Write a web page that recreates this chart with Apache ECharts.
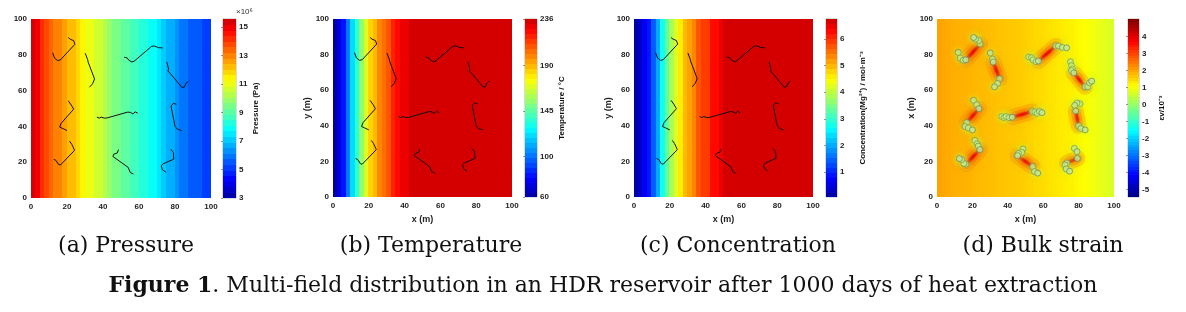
<!DOCTYPE html>
<html><head><meta charset="utf-8">
<script src="https://cdn.jsdelivr.net/npm/echarts@6/dist/echarts.min.js"></script>
<style>html,body{margin:0;padding:0;background:#fff}#c{width:1186px;height:312px}</style>
</head><body><div id="c"></div>
<script>
// ---------------- data ----------------
const axisTicks = [0, 20, 40, 60, 80, 100];
const colStep = 2.5; // width (m) of each column of the field profiles below
// field values per 2.5 m column, x = 0 .. 100 m
const pressureCols = [15.27,14.8,14.25,13.83,13.42,13.02,12.84,12.6,12.4,12.2,
  11.78,11.3,11.1,10.9,10.67,10.48,10.07,9.9,9.66,9.42,
  9.21,9.0,8.79,8.58,8.37,8.16,7.95,7.74,7.4,7.19,
  6.91,6.63,6.35,6.14,5.93,5.72,5.51,5.37,5.16,5.02];
const temperatureCols = [63,70,80,100,120,135,155,172,183,190,
  197,204,211,217,224,227,231,234,235,235.5,
  235.8,236,236,236,236,236,236,236,236,236,
  236,236,236,236,236,236,236,236,236,236];
const concentrationCols = [0.14,0.37,0.74,0.96,1.55,2.07,2.67,3.33,3.85,4.3,
  4.6,4.9,5.19,5.41,5.71,5.86,6.0,6.23,6.34,6.45,
  6.67,6.7,6.72,6.72,6.73,6.73,6.73,6.73,6.73,6.73,
  6.73,6.73,6.73,6.73,6.73,6.73,6.73,6.73,6.73,6.73];
const strainCols = [2.05,2.02,1.98,1.95,1.92,1.9,1.88,1.86,1.84,1.82,
  1.8,1.78,1.76,1.74,1.72,1.7,1.68,1.66,1.64,1.62,
  1.58,1.55,1.5,1.47,1.43,1.4,1.36,1.33,1.3,1.27,
  1.24,1.2,1.15,1.1,1.04,0.98,0.92,0.85,0.78,0.72];
// colour-bar ranges and tick labels
const pressureRange = [3, 15.56];      const pressureTicks = [3,5,7,9,11,13,15];
const temperatureRange = [60, 236];    const temperatureTicks = [60,100,145,190,236];
const concentrationRange = [0.07, 6.75]; const concentrationTicks = [1,2,3,4,5,6];
const strainRange = [-5.45, 5.04];     const strainTicks = [-5,-4,-3,-2,-1,0,1,2,3,4];
// fracture traces (x, y in m) and index of the first vertex of the main segment
const fractures = [
  [[12.0,81.2],[13.1,78.1],[14.8,76.8],[16.3,77.1],[24.4,85.9],[23.7,87.9],[21.8,88.7],[20.7,89.6]],
  [[30.1,80.9],[31.4,77.5],[31.8,75.8],[35.3,66.5],[34.2,63.8],[32.5,61.9]],
  [[51.8,78.6],[53.4,78.3],[54.3,77.0],[56.0,76.0],[57.3,76.4],[67.1,84.8],[68.6,84.9],[70.8,84.0],[73.2,83.8]],
  [[75.4,76.0],[76.0,73.8],[76.5,71.9],[76.0,71.0],[77.3,69.7],[83.7,61.9],[85.2,61.9],[86.1,64.1],[87.4,65.1]],
  [[20.7,54.3],[22.4,51.9],[23.7,49.6],[16.8,41.8],[15.9,39.6],[17.7,38.8],[20.0,37.7]],
  [[36.6,45.2],[37.9,44.6],[39.0,45.2],[40.7,44.6],[42.5,44.8],[53.8,48.0],[55.3,47.8],[56.6,47.0],[57.9,48.1],[59.3,47.4]],
  [[80.8,52.4],[79.1,52.8],[77.8,51.5],[78.4,48.3],[80.0,40.0],[81.3,38.5],[83.7,37.7]],
  [[21.4,31.8],[22.7,29.9],[23.3,28.6],[24.2,26.6],[16.3,18.4],[15.2,18.8],[13.9,21.0],[12.6,21.6]],
  [[48.6,27.0],[47.9,25.1],[46.0,24.5],[45.5,23.2],[54.0,17.1],[55.1,14.3],[56.9,13.4]],
  [[77.6,27.3],[79.1,25.5],[79.3,21.7],[73.4,19.1],[72.3,18.0],[73.0,15.8],[74.9,14.5]]
];
const fractureMain = [3,2,4,4,2,4,3,3,3,2];
const captions = ['(a) Pressure','(b) Temperature','(c) Concentration','(d) Bulk strain'];

// ---------------- styling helpers ----------------
function clamp(v){return Math.max(0,Math.min(1,v));}
function jet(t){
  t=clamp(t);
  const r=clamp(1.5-Math.abs(4*t-3)), g=clamp(1.5-Math.abs(4*t-2)), b=clamp(1.5-Math.abs(4*t-1));
  const h=v=>Math.round(v*255).toString(16).padStart(2,'0');
  return '#'+h(r)+h(g)+h(b);
}
const jetStops=['#00007f','#0000ff','#007fff','#00ffff','#7fff7f','#ffff00','#ff7f00','#ff0000','#7f0000'];
function bands(range,n){
  const step=(range[1]-range[0])/n, pieces=[], bar=[];
  for(let i=0;i<n;i++){
    const lo=range[0]+i*step, hi=lo+step;
    const p={gte:lo,color:jet(0.03+0.9*(i+0.5)/n)};
    if(i===n-1) p.lte=hi+1; else p.lt=hi;
    pieces.push(p); bar.push([lo,hi,(lo+hi)/2]);
  }
  return {pieces,bar};
}
function cols(vals){return vals.map((v,i)=>[i*colStep,(i+1)*colStep,v]);}

const FONT='"Liberation Sans", Arial, sans-serif';
const lab={fontFamily:FONT,fontSize:8,fontWeight:'bold',color:'#222'};

const panels=[
  {field:{left:31,top:19,width:180,height:179},cb:{left:223,top:19,width:13,height:179},
   vals:pressureCols,range:pressureRange,ticks:pressureTicks,n:32,cbName:'Pressure (Pa)',cbGap:15,
   xName:'',yName:'',yGap:18},
  {field:{left:333,top:19,width:179,height:178},cb:{left:525,top:19,width:12,height:178},
   vals:temperatureCols,range:temperatureRange,ticks:temperatureTicks,n:36,cbName:'Temperature / °C',cbGap:21,
   xName:'x (m)',yName:'y (m)',yGap:18},
  {field:{left:634,top:19,width:179,height:178},cb:{left:826,top:19,width:11,height:178},
   vals:concentrationCols,range:concentrationRange,ticks:concentrationTicks,n:36,cbName:'Concentration(Mg²⁺) / mol·m⁻³',cbGap:22,
   xName:'x (m)',yName:'y (m)',yGap:18},
  {field:{left:937,top:19,width:177,height:178},cb:{left:1128,top:19,width:11,height:178},
   vals:strainCols,range:strainRange,ticks:strainTicks,n:64,cbName:'εv/10⁻³',cbGap:19,
   xName:'x (m)',yName:'x (m)',yGap:20,continuous:true}
];

const grid=[],xAxis=[],yAxis=[],series=[],visualMap=[];
function cellRender(params,api){
  const a=api.coord([api.value(0),100]), b=api.coord([api.value(1),0]);
  const x0=Math.floor(a[0]), x1=Math.min(Math.ceil(b[0])+0.5, b[0]+1);
  return {type:'rect',shape:{x:x0,y:a[1],width:x1-x0,height:b[1]-a[1]},style:{fill:api.visual('color')}};
}
function barRender(params,api){
  const a=api.coord([0,api.value(1)]), b=api.coord([1,api.value(0)]);
  const y0=Math.floor(a[1]), y1=Math.ceil(b[1]);
  return {type:'rect',shape:{x:a[0],y:y0,width:b[0]-a[0],height:y1-y0},style:{fill:api.visual('color')}};
}
panels.forEach((p,k)=>{
  const gi=grid.length;
  grid.push(Object.assign({outerBoundsMode:'none',containLabel:false},p.field));
  grid.push(Object.assign({outerBoundsMode:'none',containLabel:false,show:true,borderColor:'#8a8a8a',borderWidth:0.6},p.cb));
  xAxis.push({gridIndex:gi,type:'value',min:0,max:100,interval:20,
    axisLine:{show:false},axisTick:{show:false},splitLine:{show:false},
    axisLabel:Object.assign({margin:5},lab),
    name:p.xName,nameLocation:'middle',nameGap:15,nameTextStyle:{fontFamily:FONT,fontSize:9,fontWeight:'bold',color:'#222'}});
  yAxis.push({gridIndex:gi,type:'value',min:0,max:100,interval:20,
    axisLine:{show:false},axisTick:{show:false},splitLine:{show:false},
    axisLabel:Object.assign({margin:4},lab),
    name:p.yName,nameLocation:'middle',nameGap:p.yGap,nameRotate:90,nameTextStyle:{fontFamily:FONT,fontSize:9,fontWeight:'bold',color:'#222'}});
  xAxis.push({gridIndex:gi+1,type:'value',min:0,max:1,show:false});
  yAxis.push({gridIndex:gi+1,type:'value',position:'right',min:p.range[0],max:p.range[1],
    axisLine:{show:false},splitLine:{show:false},
    axisTick:{show:true,inside:true,length:2,customValues:p.ticks,lineStyle:{color:'#555',width:0.6}},
    axisLabel:Object.assign({margin:3,customValues:p.ticks},lab),
    name:p.cbName,nameLocation:'middle',nameGap:p.cbGap,nameRotate:90,
    nameTextStyle:{fontFamily:FONT,fontSize:8,fontWeight:'bold',color:'#111'}});
  const b=bands(p.range,p.n);
  const fieldIdx=series.length;
  series.push({type:'custom',xAxisIndex:gi,yAxisIndex:gi,renderItem:cellRender,data:cols(p.vals),
    dimensions:['x0','x1','v'],encode:{x:[0,1],y:-1},silent:true,clip:true,z:1});
  const cbIdx=series.length;
  series.push({type:'custom',xAxisIndex:gi+1,yAxisIndex:gi+1,renderItem:barRender,data:b.bar,
    dimensions:['lo','hi','v'],silent:true,clip:true,z:1});
  if(p.continuous){
    visualMap.push({type:'continuous',show:false,min:p.range[0],max:p.range[1],dimension:2,
      seriesIndex:[fieldIdx,cbIdx],inRange:{color:jetStops}});
  } else {
    visualMap.push({type:'piecewise',show:false,dimension:2,seriesIndex:[fieldIdx,cbIdx],pieces:b.pieces});
  }
  if(!p.continuous){
    series.push({type:'lines',coordinateSystem:'cartesian2d',xAxisIndex:gi,yAxisIndex:gi,polyline:true,
      silent:true,z:3,lineStyle:{color:'#111',width:1,opacity:1},
      data:fractures.map(f=>({coords:f}))});
  } else {
    const mains=fractures.map((f,i)=>({coords:[f[fractureMain[i]],f[fractureMain[i]+1]]}));
    // diffuse high-strain glow around the main fracture segments (stacked translucent strokes)
    const glow=[[16,'rgba(250,100,0,0.28)',10],[10,'rgba(245,65,0,0.35)',0],[5,'rgba(230,30,0,0.45)',0]];
    glow.forEach(g=>series.push({type:'lines',coordinateSystem:'cartesian2d',xAxisIndex:gi,yAxisIndex:gi,silent:true,z:2,
      lineStyle:{color:g[1],width:g[0],opacity:1,cap:'round',shadowBlur:g[2],shadowColor:g[1]},data:mains}));
    series.push({type:'lines',coordinateSystem:'cartesian2d',xAxisIndex:gi,yAxisIndex:gi,silent:true,z:3,
      lineStyle:{color:'#f00a00',width:2.6,opacity:1},
      data:mains});
    series.push({type:'scatter',xAxisIndex:gi,yAxisIndex:gi,silent:true,z:4,symbol:'circle',symbolSize:6,
      itemStyle:{color:'#c2e6a3',borderColor:'#5f7a52',borderWidth:0.8,shadowBlur:7,shadowColor:'rgba(205,255,70,0.95)'},
      data:[].concat(...fractures)});
  }
});

const serif='"DejaVu Serif", "Liberation Serif", serif';
const capX=[126,431,738,1043];
const graphic=captions.map((t,i)=>({type:'text',x:capX[i],y:246,silent:true,
  style:{text:t,align:'center',verticalAlign:'middle',fontFamily:serif,fontSize:22,fill:'#111'}}));
graphic.push({type:'text',x:603,y:286,silent:true,
  style:{text:'{b|Figure 1}. Multi-field distribution in an HDR reservoir after 1000 days of heat extraction',
    align:'center',verticalAlign:'middle',fontFamily:serif,fontSize:22,fill:'#111',
    rich:{b:{fontFamily:serif,fontSize:22,fontWeight:'bold',fill:'#111'}}}});
graphic.push({type:'text',x:236,y:12,silent:true,
  style:{text:'×10⁶',align:'left',verticalAlign:'middle',fontFamily:FONT,fontSize:8,fill:'#333'}});

const chart=echarts.init(document.getElementById('c'),null,{renderer:'canvas'});
chart.setOption({animation:false,backgroundColor:'#fff',grid,xAxis,yAxis,visualMap,series,graphic});
</script></body></html>
